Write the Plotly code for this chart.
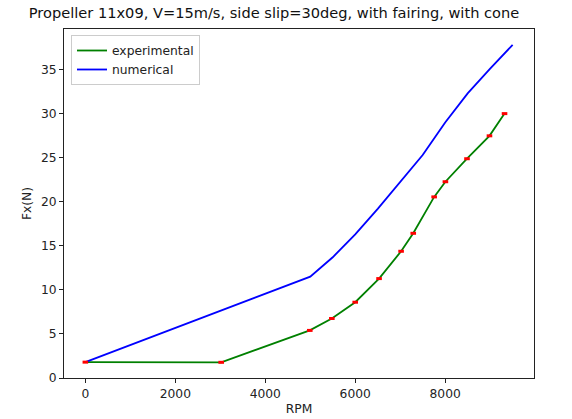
import plotly.graph_objects as go

# Experimental data
exp_rpm = [0, 3020, 4990, 5480, 6000, 6530, 7020, 7290, 7755, 8005, 8485, 8985, 9320]
exp_fx = [1.8, 1.78, 5.4, 6.75, 8.6, 11.28, 14.38, 16.42, 20.55, 22.27, 24.88, 27.48, 30.0]

# Numerical data
num_rpm = [0, 5000, 5500, 6000, 6500, 7000, 7500, 8000, 8500, 9000, 9500]
num_fx = [1.8, 11.5, 13.7, 16.3, 19.2, 22.2, 25.3, 29.0, 32.3, 35.1, 37.8]

x_ticks = [0, 2000, 4000, 6000, 8000]
y_ticks = [0, 5, 10, 15, 20, 25, 30, 35]

title = "Propeller 11x09, V=15m/s, side slip=30deg, with fairing, with cone"

fig = go.Figure()
fig.add_trace(go.Scatter(x=exp_rpm, y=exp_fx, mode="lines", name="experimental",
                         line=dict(color="green", width=1.8)))
fig.add_trace(go.Scatter(x=num_rpm, y=num_fx, mode="lines", name="numerical",
                         line=dict(color="blue", width=1.8)))
fig.add_trace(go.Scatter(x=exp_rpm, y=exp_fx, mode="markers", showlegend=False,
                         marker=dict(symbol="line-ew", size=4, color="red",
                                     line=dict(color="red", width=3))))

font = "DejaVu Sans, sans-serif"
W, H = 572, 419
L, R, T, B = 64, 38, 29, 41

fig.update_layout(
    width=W, height=H,
    margin=dict(l=L, r=R, t=T, b=B, autoexpand=False),
    paper_bgcolor="white", plot_bgcolor="white",
    font=dict(family=font, size=12, color="#222"),
    title=dict(text=title, x=274 / W, xanchor="center", xref="container",
               y=1 - 13 / H, yanchor="middle", yref="container",
               font=dict(family=font, size=14.6, color="#111")),
    showlegend=True,
    legend=dict(x=(71 - L) / (W - L - R), y=1 - (35 - T) / (H - T - B),
                xanchor="left", yanchor="top",
                bgcolor="rgba(255,255,255,0.8)", bordercolor="#cccccc", borderwidth=1,
                font=dict(family=font, size=12.3, color="#222"),
                tracegroupgap=0),
    xaxis=dict(range=[-475, 9975], tickvals=x_ticks, ticks="outside", ticklen=4,
               tickcolor="#222", showline=True, linecolor="#222", linewidth=1,
               mirror=True, showgrid=False, zeroline=False, automargin=False,
               tickfont=dict(family=font, size=12.3, color="#222"),
               title=dict(text="RPM", font=dict(family=font, size=12.3, color="#222"),
                          standoff=4)),
    yaxis=dict(range=[0, 39.6], tickvals=y_ticks, ticks="outside", ticklen=4,
               tickcolor="#222", showline=True, linecolor="#222", linewidth=1,
               mirror=True, showgrid=False, zeroline=False, automargin=False,
               tickfont=dict(family=font, size=12.3, color="#222"),
               title=dict(text="Fx(N)", font=dict(family=font, size=12.3, color="#222"),
                          standoff=6)),
)

fig.write_html("out.html")
